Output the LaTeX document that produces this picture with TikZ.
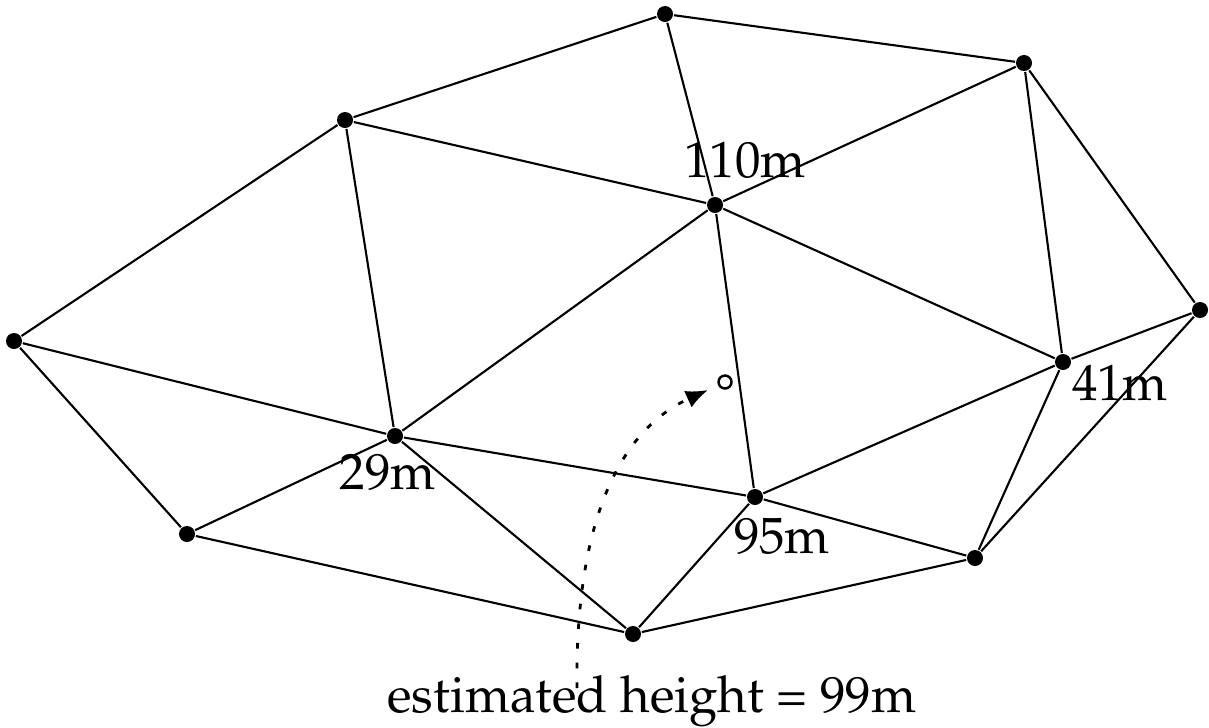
\documentclass[tikz,border=0pt]{standalone}
\usepackage[T1]{fontenc}
\usepackage{mathpazo}
\usepackage{tikz}
\usetikzlibrary{arrows.meta}

\begin{document}
\begin{tikzpicture}[x=0.01cm, y=-0.01cm, line width=0.6pt,
	every node/.style={font=\fontsize{14.5}{17}\selectfont},
	pt/.style={circle, fill=black, inner sep=0pt, minimum size=0.16cm},
	query/.style={circle, draw, fill=white, inner sep=0pt, minimum size=0.13cm, line width=0.7pt}]
	\useasboundingbox (0,0) rectangle (1209,727);
	% sample points
	\node[pt] (a) at (665,14) {};
	\node[pt] (b) at (1024,63) {};
	\node[pt] (c) at (345,120) {};
	\node[pt] (d) at (715,205) {};
	\node[pt] (e) at (14,341) {};
	\node[pt] (f) at (1200,310) {};
	\node[pt] (g) at (1063,362) {};
	\node[pt] (h) at (395,436) {};
	\node[pt] (j) at (755,497) {};
	\node[pt] (k) at (187,534) {};
	\node[pt] (l) at (975,558) {};
	\node[pt] (m) at (633,634) {};
	\node[query] (q) at (725,382) {};
	% triangulation
	\foreach \u/\v in {a/b, a/c, a/d, b/d, b/g, b/f, c/d, c/e, c/h, d/h, d/j, d/g,
		e/h, e/k, f/g, f/l, g/j, g/l, h/j, h/k, h/m, j/m, j/l, k/m, m/l}
		\draw (\u) -- (\v);
	% heights
	\node (l110) at (745,160) {110m};
	\node (l41) at (1120,383) {41m};
	\node (l29) at (388,472) {29m};
	\node (l95) at (782,536) {95m};
	\node (est) at (652,701) {estimated height = 99m};
	\draw[line width=0.8pt, dash pattern=on 1.6pt off 4pt, -{Latex[length=0.22cm, width=0.18cm]}]
		(577,688) .. controls (575,520) and (620,430) .. ([xshift=-0.17cm,yshift=-0.08cm]q.center);
\end{tikzpicture}
\end{document}
